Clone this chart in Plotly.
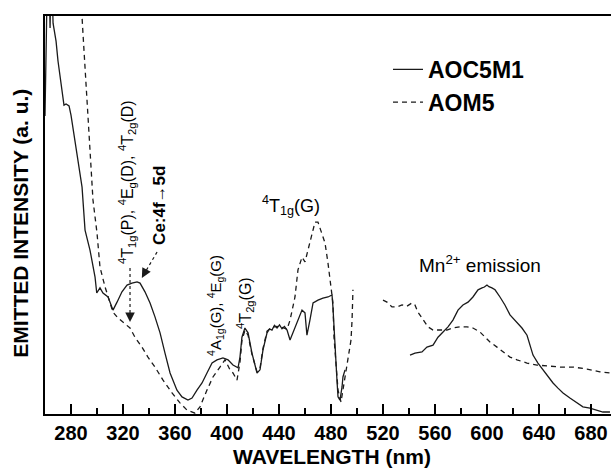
import plotly.graph_objects as go

# ---------------- data ----------------
# AOC5M1 (solid) : excitation part
aoc_uv_nm = [260.0, 260.8, 261.6, 263.4, 263.9, 264.4, 265.6, 266.2, 268.5, 270.0, 272.3, 274.6,
             276.2, 278.5, 280.0, 281.5, 283.1, 288.5, 290.8, 294.6, 298.5, 299.8, 302.3, 304.6,
             308.5, 312.3, 315.4, 319.2, 323.1, 326.9, 330.8, 333.1, 336.9, 340.8, 344.6, 348.5,
             352.3, 356.2, 361.5, 365.4, 370.0, 373.1, 376.9, 380.8, 384.6, 388.5, 392.3, 396.9,
             400.8, 404.6, 408.5, 410.0, 411.5, 413.8, 416.2, 419.2, 423.1, 425.4, 427.7, 430.8,
             432.7, 434.6, 436.5, 438.5, 440.4, 442.3, 444.2, 446.2, 448.5, 450.8, 454.6, 457.7,
             460.0, 461.5, 463.8, 466.2, 470.0, 473.8, 477.7, 480.8, 481.5, 483.1, 484.6, 485.4,
             486.9, 488.5, 489.2, 490.8]
aoc_uv_int = [74.9, 85.0, 106.0, 106.0, 97.0, 106.0, 106.0, 98.2, 93.7, 88.7, 83.7, 77.6,
              77.9, 77.4, 75.1, 71.9, 68.8, 57.0, 46.2, 41.2, 34.4, 30.4, 31.7, 30.4,
              29.4, 26.1, 28.1, 30.7, 32.4, 32.9, 33.2, 32.9, 30.7, 27.9, 24.4, 20.4,
              15.3, 10.3, 6.0, 4.3, 3.5, 4.0, 6.0, 7.8, 10.3, 12.8, 13.6, 14.1,
              13.6, 12.3, 11.6, 14.3, 19.3, 21.6, 20.4, 15.3, 10.3, 11.1, 16.1, 20.4,
              21.4, 21.1, 22.3, 21.6, 22.4, 21.4, 22.0, 21.1, 18.6, 20.4, 23.6, 26.1,
              25.4, 19.8, 23.6, 27.9, 28.6, 29.1, 29.4, 29.9, 26.9, 15.3, 8.5, 4.3,
              3.5, 6.8, 9.3, 11.1]
# AOC5M1 (solid) : Mn2+ emission part
aoc_em_nm = [540.8, 544.6, 550.0, 553.8, 558.5, 562.3, 566.2, 570.0, 573.8, 577.7, 581.5, 585.4,
             589.2, 593.1, 596.2, 598.0, 600.0, 601.5, 603.8, 606.2, 610.0, 613.8, 617.7, 623.1,
             626.9, 630.8, 633.1, 635.4, 639.2, 643.1, 646.9, 650.8, 654.6, 658.5, 663.8, 669.2,
             673.8, 679.2, 684.6, 689.2, 694.6]
aoc_em_int = [14.8, 15.3, 15.6, 16.8, 17.3, 19.3, 20.6, 21.9, 23.6, 26.1, 27.4, 28.1,
              29.4, 31.2, 31.7, 31.9, 32.4, 32.0, 31.7, 31.2, 29.4, 27.4, 24.9, 23.1,
              21.6, 19.8, 17.3, 14.8, 12.8, 11.1, 9.3, 7.8, 6.5, 5.3, 4.0, 2.8,
              1.8, 1.5, 1.0, 0.5, 0.5]

# AOM5 (dashed) : excitation part
aom_uv_nm = [286.0, 288.5, 289.2, 290.0, 291.5, 293.1, 294.6, 296.9, 300.0, 302.3, 306.2, 310.0,
             312.3, 316.2, 320.0, 325.4, 329.2, 334.6, 339.2, 344.6, 350.8, 357.7, 363.8, 369.2,
             375.4, 379.2, 384.6, 389.2, 394.6, 398.5, 402.3, 404.6, 407.7, 410.0, 411.5, 413.8,
             416.2, 419.2, 423.1, 425.4, 427.7, 430.8, 434.6, 438.5, 442.3, 446.2, 448.5, 452.3,
             454.6, 457.7, 460.0, 462.3, 465.4, 467.7, 470.0, 473.1, 475.4, 477.7, 480.8, 481.5,
             482.3, 485.4, 487.7, 489.2, 490.8, 493.1, 495.4, 496.2, 496.9]
aom_uv_int = [106.0, 99.7, 95.7, 90.0, 83.2, 74.6, 66.0, 53.8, 45.5, 36.9, 31.9, 27.9,
              25.6, 24.1, 23.1, 21.6, 19.3, 16.8, 14.3, 11.8, 8.5, 5.3, 2.8, 1.0,
              0.2, 1.8, 6.0, 9.3, 11.8, 13.6, 11.1, 10.3, 8.5, 13.0, 18.5, 21.0,
              19.8, 15.0, 10.6, 11.5, 16.5, 20.8, 21.8, 22.0, 21.8, 21.3, 23.6, 29.4,
              36.2, 39.4, 38.2, 41.2, 44.5, 48.2, 48.2, 45.5, 43.0, 37.9, 30.4, 27.9,
              19.3, 6.0, 3.0, 6.0, 10.3, 14.3, 18.6, 23.6, 31.2]
# AOM5 (dashed) : emission part
aom_em_nm = [520.0, 523.1, 526.9, 530.8, 534.6, 538.5, 542.3, 544.6, 546.9, 550.8, 554.6, 558.5,
             563.8, 569.2, 573.8, 579.2, 584.6, 589.2, 594.6, 598.5, 602.3, 607.7, 612.3, 617.7,
             623.1, 630.8, 638.5, 646.2, 656.2, 666.2, 676.9, 686.9, 694.6]
aom_em_int = [28.6, 28.1, 26.9, 26.9, 27.4, 27.1, 27.9, 27.4, 25.6, 23.6, 21.9, 21.1,
              21.1, 21.1, 21.6, 21.9, 21.9, 21.6, 20.6, 19.3, 18.1, 16.8, 15.6, 14.3,
              13.6, 12.8, 12.3, 12.1, 11.8, 11.8, 11.3, 10.6, 10.3]

x_ticks = [280, 320, 360, 400, 440, 480, 520, 560, 600, 640, 680]
series_names = ["AOC5M1", "AOM5"]

FONT = "Liberation Sans, Arial, Helvetica, sans-serif"
INK = "#1a1a1a"

fig = go.Figure()
fig.add_trace(go.Scatter(
    x=aoc_uv_nm + [None] + aoc_em_nm,
    y=aoc_uv_int + [None] + aoc_em_int,
    mode="lines", name=series_names[0], connectgaps=False,
    line=dict(color=INK, width=1.3)))
fig.add_trace(go.Scatter(
    x=aom_uv_nm + [None] + aom_em_nm,
    y=aom_uv_int + [None] + aom_em_int,
    mode="lines", name=series_names[1], connectgaps=False,
    line=dict(color=INK, width=1.3, dash="5px,4px")))

fig.update_layout(
    width=611, height=471,
    margin=dict(l=45, r=0, t=16, b=57),
    paper_bgcolor="white", plot_bgcolor="white",
    font=dict(family=FONT, color="black"),
    showlegend=True,
    legend=dict(x=0.606, y=0.92, xanchor="left", yanchor="top",
                bgcolor="rgba(0,0,0,0)", borderwidth=0,
                font=dict(size=23, family=FONT, weight="bold", color="black"),
                itemwidth=30, tracegroupgap=0),
    xaxis=dict(range=[260, 695.4], showgrid=False, zeroline=False,
               showline=True, linewidth=2, linecolor="black", mirror=True,
               ticks="inside", ticklen=10, tickwidth=2, tickcolor="black",
               tickvals=x_ticks, ticktext=[str(v) for v in x_ticks],
               tickfont=dict(size=20, family=FONT, weight="bold", color="black"),
               minor=dict(ticks="inside", ticklen=6, tickwidth=2, tickcolor="black",
                          dtick=20, tick0=260)),
    yaxis=dict(range=[0, 100], showgrid=False, zeroline=False,
               showline=True, linewidth=2, linecolor="black",
               showticklabels=False, ticks=""),
)

# axis titles
fig.add_annotation(text="WAVELENGTH (nm)", xref="paper", yref="paper",
                   x=0.507, y=-0.106, xanchor="center", yanchor="middle",
                   showarrow=False,
                   font=dict(size=21, family=FONT, weight="bold", color="black"))
fig.add_annotation(text="EMITTED INTENSITY (a. u.)", xref="paper", yref="paper",
                   x=-0.0424, y=0.478, xanchor="center", yanchor="middle", textangle=-90,
                   showarrow=False,
                   font=dict(size=21, family=FONT, weight="bold", color="black"))

labels = [
    ("<sup>4</sup>T<sub>1g</sub>(P), <sup>4</sup>E<sub>g</sub>(D), <sup>4</sup>T<sub>2g</sub>(D)", 323.1, 58.3, -90, 16, "normal"),
    ("Ce:4f\u21925d", 348.5, 52.3, -90, 17, "bold"),
    ("<sup>4</sup>A<sub>1g</sub>(G), <sup>4</sup>E<sub>g</sub>(G)", 391.5, 27.4, -90, 15, "normal"),
    ("<sup>4</sup>T<sub>2g</sub>(G)", 413.8, 27.9, -90, 16, "normal"),
    ("<sup>4</sup>T<sub>1g</sub>(G)", 449.2, 52.5, 0, 18, "normal"),
    ("Mn<sup>2+</sup> emission", 594.6, 37.7, 0, 19, "normal"),
]
for txt, lx, ly, ang, fs, fw in labels:
    fig.add_annotation(text=txt, x=lx, y=ly, xref="x", yref="y", textangle=ang,
                       xanchor="center", yanchor="middle", showarrow=False,
                       font=dict(size=fs, family=FONT, weight=fw, color="black"))

# dotted pointer lines, each ending in a small solid arrowhead
pointers = [((346.2, 40.7), (334.5, 34.2), 5, -9), ((325.4, 36.7), (325.4, 23.1), 0, -10)]
for (x0, y0), (x1, y1), hx, hy in pointers:
    fig.add_shape(type="line", x0=x0, y0=y0, x1=x1, y1=y1, xref="x", yref="y",
                  line=dict(color=INK, width=1.2, dash="dot"))
    fig.add_annotation(x=x1, y=y1, ax=hx, ay=hy, xref="x", yref="y",
                       text="", showarrow=True, arrowhead=2, arrowsize=1.6, arrowwidth=1.2,
                       arrowcolor=INK, standoff=0)

fig.write_html("out.html")
